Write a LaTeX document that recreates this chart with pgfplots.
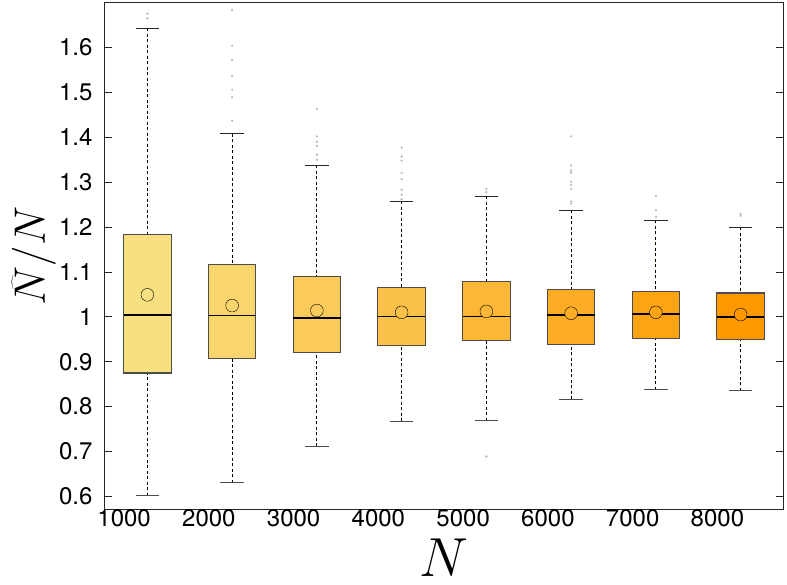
\RequirePackage{fix-cm}
\documentclass[border=0pt]{standalone}
\usepackage{fontspec}
\setmainfont{TeX Gyre Heros}
\usepackage{pgfplots}
\pgfplotsset{compat=1.18}
\usepgfplotslibrary{statistics}
\definecolor{c1}{RGB}{248,223,128}
\definecolor{c2}{RGB}{249,213,110}
\definecolor{c3}{RGB}{250,203,91}
\definecolor{c4}{RGB}{251,193,73}
\definecolor{c5}{RGB}{252,183,55}
\definecolor{c6}{RGB}{253,173,37}
\definecolor{c7}{RGB}{254,163,18}
\definecolor{c8}{RGB}{255,153,0}
\pgfplotsset{
  boxplot/draw direction=y,
  boxplot/every box/.style={draw=black!70, line width=1.1pt},
  boxplot/every median/.style={draw=black, line width=1.7pt},
  boxplot/every whisker/.style={draw=black, line width=0.8pt},
  boxplot/draw/lower whisker/.code={%
    \draw[/pgfplots/boxplot/every whisker/.try, dash pattern=on 3pt off 2.5pt]
      (boxplot cs:\pgfplotsboxplotvalue{lower whisker}) -- (boxplot cs:\pgfplotsboxplotvalue{lower quartile});
    \draw[/pgfplots/boxplot/every whisker/.try, solid, draw=black!70, line width=1pt]
      (boxplot whisker cs:\pgfplotsboxplotvalue{lower whisker},0) -- (boxplot whisker cs:\pgfplotsboxplotvalue{lower whisker},1);
  },
  boxplot/draw/upper whisker/.code={%
    \draw[/pgfplots/boxplot/every whisker/.try, dash pattern=on 3pt off 2.5pt]
      (boxplot cs:\pgfplotsboxplotvalue{upper whisker}) -- (boxplot cs:\pgfplotsboxplotvalue{upper quartile});
    \draw[/pgfplots/boxplot/every whisker/.try, solid, draw=black!85, line width=1pt]
      (boxplot whisker cs:\pgfplotsboxplotvalue{upper whisker},0) -- (boxplot whisker cs:\pgfplotsboxplotvalue{upper whisker},1);
  },
  bx/.style={draw=black!70, mark=*, mark size=0.9pt, mark options={draw=gray!55, fill=gray!55, solid}},
  mn/.style={only marks, mark=*, mark size=6.4pt, mark options={draw=black, line width=0.9pt, solid}},
}
\begin{document}
\begin{tikzpicture}
\begin{axis}[name=ax,
  scale only axis, width=678pt, height=506pt,
  xmin=0.5, xmax=8.5, ymin=0.572, ymax=1.699,
  xtick={1,2,3,4,5,6,7,8},
  xticklabels={1000,2000,3000,4000,5000,6000,7000,8000},
  ytick={0.6,0.7,0.8,0.9,1,1.1,1.2,1.3,1.4,1.5,1.6},
  yticklabels={0.6,0.7,0.8,0.9,1,1.1,1.2,1.3,1.4,1.5,1.6},
  tick align=inside, major tick length=7pt,
  xtick style={draw=none},
  ytick style={black!85, line width=0.8pt},
  axis line style={black!85, line width=1pt},
  tick label style={font=\fontsize{24}{28}\selectfont},
  /pgf/number format/assume math mode=true,
  xticklabel style={anchor=north east, xshift=7pt, yshift=3pt},
  yticklabel style={xshift=-9pt},
  xlabel={$N$},
  xlabel style={at={(axis description cs:0.5,-0.134)}, anchor=base, inner sep=0pt, font=\fontsize{55}{60}\selectfont},
  ylabel={$\widehat{N}/N$},
  ylabel style={at={(axis description cs:-0.0885,0.5)}, anchor=base, inner sep=0pt, font=\fontsize{44}{50}\selectfont},
  clip=false,
]
\addplot[bx, fill=c1, boxplot prepared={draw position=1, box extend=0.56, whisker extend=0.28,
  median=1.004, upper quartile=1.183, lower quartile=0.875, upper whisker=1.643, lower whisker=0.602}]
  table[row sep=\\, y index=0] {data\\ 1.675\\ 1.665\\};
\addplot[bx, fill=c2, boxplot prepared={draw position=2, box extend=0.56, whisker extend=0.28,
  median=1.003, upper quartile=1.117, lower quartile=0.907, upper whisker=1.408, lower whisker=0.630}]
  table[row sep=\\, y index=0] {data\\ 1.684\\ 1.604\\ 1.572\\ 1.537\\ 1.506\\ 1.489\\ 1.437\\};
\addplot[bx, fill=c3, boxplot prepared={draw position=3, box extend=0.56, whisker extend=0.28,
  median=0.998, upper quartile=1.090, lower quartile=0.921, upper whisker=1.338, lower whisker=0.712}]
  table[row sep=\\, y index=0] {data\\ 1.463\\ 1.402\\ 1.390\\ 1.381\\ 1.361\\ 1.350\\};
\addplot[bx, fill=c4, boxplot prepared={draw position=4, box extend=0.56, whisker extend=0.28,
  median=1.001, upper quartile=1.066, lower quartile=0.937, upper whisker=1.257, lower whisker=0.767}]
  table[row sep=\\, y index=0] {data\\ 1.377\\ 1.357\\ 1.348\\ 1.320\\ 1.307\\ 1.283\\ 1.272\\ 1.262\\};
\addplot[bx, fill=c5, boxplot prepared={draw position=5, box extend=0.56, whisker extend=0.28,
  median=1.001, upper quartile=1.079, lower quartile=0.947, upper whisker=1.269, lower whisker=0.769}]
  table[row sep=\\, y index=0] {data\\ 1.285\\ 1.278\\ 0.689\\};
\addplot[bx, fill=c6, boxplot prepared={draw position=6, box extend=0.56, whisker extend=0.28,
  median=1.004, upper quartile=1.060, lower quartile=0.939, upper whisker=1.237, lower whisker=0.816}]
  table[row sep=\\, y index=0] {data\\ 1.402\\ 1.337\\ 1.326\\ 1.321\\ 1.301\\ 1.294\\ 1.285\\ 1.257\\ 1.252\\};
\addplot[bx, fill=c7, boxplot prepared={draw position=7, box extend=0.56, whisker extend=0.28,
  median=1.006, upper quartile=1.056, lower quartile=0.952, upper whisker=1.215, lower whisker=0.838}]
  table[row sep=\\, y index=0] {data\\ 1.269\\ 1.238\\ 1.223\\};
\addplot[bx, fill=c8, boxplot prepared={draw position=8, box extend=0.56, whisker extend=0.28,
  median=0.999, upper quartile=1.053, lower quartile=0.949, upper whisker=1.200, lower whisker=0.835}]
  table[row sep=\\, y index=0] {data\\ 1.229\\ 1.225\\};
\addplot[mn, mark options={fill=c1}] coordinates {(1,1.049)};
\addplot[mn, mark options={fill=c2}] coordinates {(2,1.025)};
\addplot[mn, mark options={fill=c3}] coordinates {(3,1.014)};
\addplot[mn, mark options={fill=c4}] coordinates {(4,1.010)};
\addplot[mn, mark options={fill=c5}] coordinates {(5,1.012)};
\addplot[mn, mark options={fill=c6}] coordinates {(6,1.008)};
\addplot[mn, mark options={fill=c7}] coordinates {(7,1.010)};
\addplot[mn, mark options={fill=c8}] coordinates {(8,1.005)};
\end{axis}
\pgfresetboundingbox
\path ([shift={(-105pt,-75pt)}]ax.south west) rectangle ([shift={(4pt,3pt)}]ax.north east);
\end{tikzpicture}
\end{document}
